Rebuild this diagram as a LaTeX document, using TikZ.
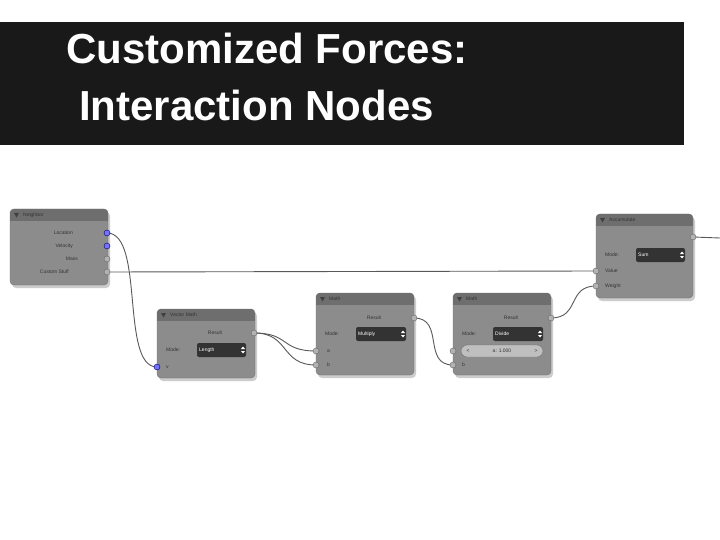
\documentclass[tikz,border=0pt]{standalone}
\usepackage{fontspec}
\setmainfont{Liberation Sans}
\begin{document}
\begin{tikzpicture}[x=1pt,y=-1pt,
  body/.style={fill=black!45,rounded corners=4pt,draw=black!55,line width=0.4pt},
  head/.style={fill=black!57},
  lbl/.style={font=\fontsize{5}{6}\selectfont,text=black!80,inner sep=0pt},
  sock/.style={circle,draw=black!60,fill=black!30,inner sep=0pt,minimum size=6pt,line width=0.4pt},
  vsock/.style={sock,fill=blue!55!white,draw=blue!40!black},
  drop/.style={fill=black!80,rounded corners=2pt},
  dtext/.style={font=\fontsize{5}{6}\selectfont,text=white,inner sep=0pt},
  wire/.style={draw=black!65,line width=0.9pt},
  tri/.style={fill=black!75}]
\useasboundingbox (0,0) rectangle (720,540);
\fill[white] (0,0) rectangle (720,540);
\fill[black!90] (0,22) rectangle (684,145);
\node[anchor=west,text=white,font=\bfseries\fontsize{42}{46}\selectfont,inner sep=0pt] (t1) at (66,48) {Customized Forces:};
\node[anchor=west,text=white,font=\bfseries\fontsize{42}{46}\selectfont,inner sep=0pt] (t2) at (79,105) {Interaction Nodes};
% generic node macro: #1 x0, #2 y0, #3 x1, #4 y1, #5 title
\newcommand{\bnode}[5]{%
  \fill[black!20,rounded corners=4pt] (#1+2,#2+3) rectangle (#3+2,#4+3);
  \path[body] (#1,#2) rectangle (#3,#4);
  \begin{scope}
  \clip[rounded corners=4pt] (#1,#2) rectangle (#3,#4);
  \fill[head] (#1,#2) rectangle (#3,#2+12);
  \end{scope}
  \fill[tri] (#1+4,#2+4) -- (#1+9,#2+4) -- (#1+6.5,#2+8.5) -- cycle;
  \node[lbl,anchor=west] at (#1+13,#2+6) {#5};}
\newcommand{\ddown}[5]{% x0 y0 x1 y1 text
  \fill[drop] (#1,#2) rectangle (#3,#4);
  \node[dtext,anchor=west] at (#1+2,#2/2+#4/2) {#5};
  \fill[white] (#3-5,#2/2+#4/2-1) -- (#3-3,#2/2+#4/2-3.5) -- (#3-1,#2/2+#4/2-1) -- cycle;
  \fill[white] (#3-5,#2/2+#4/2+1) -- (#3-3,#2/2+#4/2+3.5) -- (#3-1,#2/2+#4/2+1) -- cycle;}
% Neighbor
\bnode{10}{209}{108}{285}{Neighbor}
\node[lbl,anchor=east] at (73,233) {Location};
\node[lbl,anchor=east] at (73,246) {Velocity};
\node[lbl,anchor=east] at (78,259) {Mass};
\node[lbl,anchor=east] at (69,272) {Custom Stuff};
% Vector Math
\bnode{157}{309}{255}{378}{Vector Math}
\node[lbl] at (215,333) {Result};
\node[lbl,anchor=west] at (166,350) {Mode:};
\ddown{197}{343}{246}{357}{Length}
\node[lbl,anchor=west] at (166,367) {v};
% Math 1
\bnode{316}{293}{414}{375}{Math}
\node[lbl] at (374,318) {Result};
\node[lbl,anchor=west] at (325,334) {Mode:};
\ddown{356}{327}{406}{341}{Multiply}
\node[lbl,anchor=west] at (327,351) {a};
\node[lbl,anchor=west] at (327,365) {b};
% Math 2
\bnode{453}{293}{551}{375}{Math}
\node[lbl] at (511,318) {Result};
\node[lbl,anchor=west] at (462,334) {Mode:};
\ddown{493}{327}{543}{341}{Divide}
\fill[black!25,rounded corners=6pt,draw=black!55] (461,345) rectangle (543,357);
\node[lbl] at (502,351) {a: 1.000};
\node[lbl] at (468,351) {<};
\node[lbl] at (536,351) {>};
\node[lbl,anchor=west] at (462,365) {b};
% Accumulate
\bnode{596}{214}{693}{298}{Accumulate}
\node[lbl,anchor=west] at (605,255) {Mode:};
\ddown{636}{248}{685}{262}{Sum}
\node[lbl,anchor=west] at (605,271) {Value};
\node[lbl,anchor=west] at (605,286) {Weight};
% wires
\coordinate (out) at (720,238);
\draw[wire] (107,233) .. controls (145,233) and (120,367) .. (157,367);
\draw[wire] (107,272) -- (596,271);
\draw[wire] (254,333) .. controls (290,333) and (280,351) .. (316,351);
\draw[wire] (254,333) .. controls (290,333) and (280,365) .. (316,365);
\draw[wire] (414,318) .. controls (445,318) and (422,365) .. (453,365);
\draw[wire] (551,318) .. controls (580,318) and (567,286) .. (596,286);
\draw[wire] (693,237) -- (out);
% sockets
\node[vsock] (loc) at (107,233) {};
\node[vsock] (vel) at (107,246) {};
\node[sock] (mass) at (107,259) {};
\node[sock] (cs) at (107,272) {};
\node[sock] (vmr) at (254,333) {};
\node[vsock] (vmv) at (157,367) {};
\node[sock] (m1r) at (414,318) {};
\node[sock] (m1a) at (316,351) {};
\node[sock] (m1b) at (316,365) {};
\node[sock] (m2r) at (551,318) {};
\node[sock] (m2a) at (453,351) {};
\node[sock] (m2b) at (453,365) {};
\node[sock] (acco) at (693,237) {};
\node[sock] (accv) at (596,271) {};
\node[sock] (accw) at (596,286) {};
\end{tikzpicture}
\end{document}
